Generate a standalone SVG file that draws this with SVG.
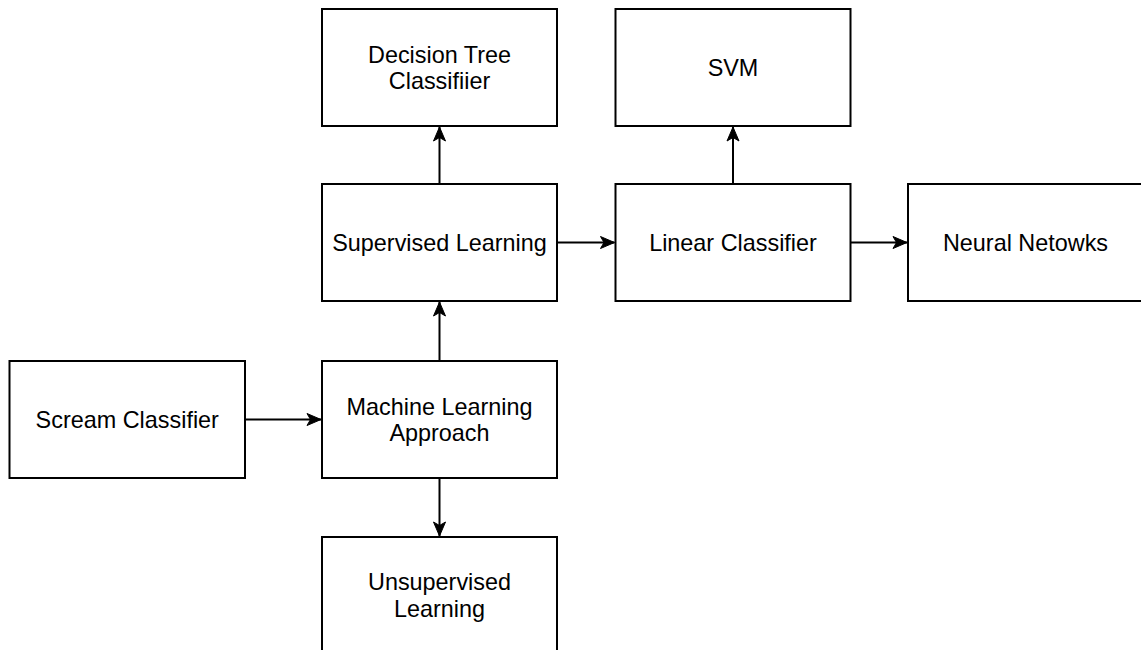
<svg xmlns="http://www.w3.org/2000/svg" width="1141" height="650" viewBox="0 0 1141 650">
  <style>
    .box { fill: #ffffff; stroke: #000000; stroke-width: 2; }
    .label { font-family: "Liberation Sans", Arial, Helvetica, sans-serif; font-size: 23.4px; fill: #000000; text-anchor: middle; }
    .edge { fill: none; stroke: #000000; stroke-width: 2; }
  </style>
  <defs>
    <marker id="arrow" markerUnits="userSpaceOnUse" viewBox="-15 -7 16 14" refX="0" refY="0" markerWidth="16" markerHeight="14" orient="auto">
      <path d="M0,0 L-14,-6 L-10.5,0 L-14,6 Z" fill="#000000" stroke="#000000" stroke-width="1" stroke-linejoin="miter"/>
    </marker>
  </defs>
  <rect x="0" y="0" width="1141" height="650" fill="#ffffff"/>

  <!-- connectors -->
  <g id="connectors">
    <path class="edge" d="M245,419.5 L321,419.5" marker-end="url(#arrow)"/>
    <path class="edge" d="M439.5,361 L439.5,302" marker-end="url(#arrow)"/>
    <path class="edge" d="M439.5,478 L439.5,536" marker-end="url(#arrow)"/>
    <path class="edge" d="M439.5,184 L439.5,127" marker-end="url(#arrow)"/>
    <path class="edge" d="M557,242.5 L614.5,242.5" marker-end="url(#arrow)"/>
    <path class="edge" d="M733,184 L733,127" marker-end="url(#arrow)"/>
    <path class="edge" d="M850.5,242.5 L907,242.5" marker-end="url(#arrow)"/>
  </g>

  <!-- nodes -->
  <g id="scream-classifier">
    <rect class="box" x="9.5" y="361" width="235.5" height="117"/>
    <text class="label" x="127.25" y="427.8">Scream Classifier</text>
  </g>
  <g id="machine-learning-approach">
    <rect class="box" x="322" y="361" width="235" height="117"/>
    <text class="label" x="439.5" y="414.6">Machine Learning</text>
    <text class="label" x="439.5" y="441.1">Approach</text>
  </g>
  <g id="unsupervised-learning">
    <rect class="box" x="322" y="537" width="235" height="117"/>
    <text class="label" x="439.5" y="590">Unsupervised</text>
    <text class="label" x="439.5" y="616.5">Learning</text>
  </g>
  <g id="supervised-learning">
    <rect class="box" x="322" y="184" width="235" height="117"/>
    <text class="label" x="439.5" y="250.8">Supervised Learning</text>
  </g>
  <g id="decision-tree-classifier">
    <rect class="box" x="322" y="9" width="235" height="117"/>
    <text class="label" x="439.5" y="62.6">Decision Tree</text>
    <text class="label" x="439.5" y="89.1">Classifiier</text>
  </g>
  <g id="linear-classifier">
    <rect class="box" x="615.5" y="184" width="235" height="117"/>
    <text class="label" x="733" y="250.8">Linear Classifier</text>
  </g>
  <g id="svm">
    <rect class="box" x="615.5" y="9" width="235" height="117"/>
    <text class="label" x="733" y="75.8">SVM</text>
  </g>
  <g id="neural-networks">
    <rect class="box" x="908" y="184" width="235" height="117"/>
    <text class="label" x="1025.5" y="250.8">Neural Netowks</text>
  </g>
</svg>
